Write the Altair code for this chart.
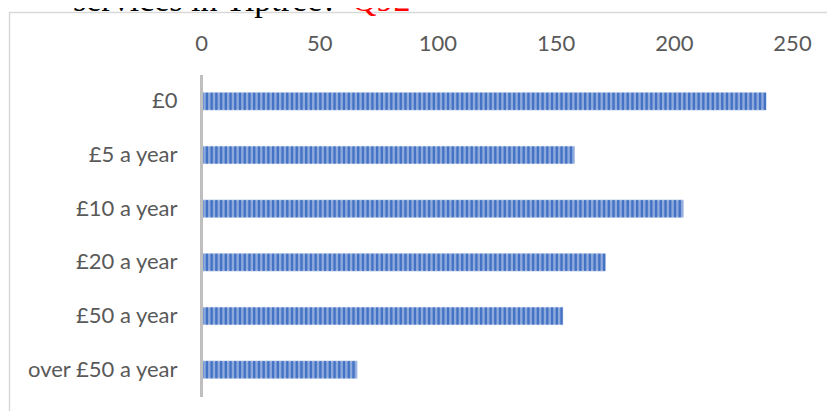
import altair as alt
import pandas as pd

# ---- data ----
categories = ["£0", "£5 a year", "£10 a year", "£20 a year", "£50 a year", "over £50 a year"]
values = [239, 158, 204, 171, 153, 66]
tick_values = [0, 50, 100, 150, 200, 250]
title_black = "services in Tiptree?"
title_red = "Q92"

df = pd.DataFrame({"category": categories, "value": values})

# stripe pattern derived from the values (one dark stripe every 2 units)
rows = []
for c, v in zip(categories, values):
    s = 0.0
    while s < v:
        rows.append({"category": c, "s": s, "e": min(s + 1.0, v)})
        s += 2.0
stripes = pd.DataFrame(rows)

one = pd.DataFrame({"a": [0]})

yscale = alt.Scale(paddingInner=0.68, paddingOuter=0.34)
xscale = alt.Scale(domain=[0, 250], nice=False, zero=True)
FONT = "Lato"
LC = "#595959"

xaxis = alt.Axis(orient="top", values=tick_values, domain=False, ticks=False,
                 tickSize=0, grid=False, labelFont=FONT, labelFontSize=22,
                 labelColor=LC, labelPadding=24, labelBaseline="alphabetic",
                 labelFlush=False, labelAlign="center", title=None)
yaxis = alt.Axis(domain=True, domainColor="#bfbfbf", domainWidth=3, ticks=False,
                 tickSize=0, grid=False, labelFont=FONT, labelFontSize=22,
                 labelColor=LC, labelPadding=24, title=None, zindex=1)

border = alt.Chart(one).mark_rect(
    fill=None, filled=False, stroke="#d9d9d9", strokeWidth=1.5
).encode(
    x=alt.value(-191.5), x2=alt.value(700),
    y=alt.value(-62), y2=alt.value(400),
)

base = alt.Chart(df).mark_bar(
    color="#8eaadc", stroke="#b4c7e7", strokeWidth=1
).encode(
    x=alt.X("value:Q", scale=xscale, axis=xaxis),
    y=alt.Y("category:N", sort=categories, scale=yscale, axis=yaxis),
)

stripe = alt.Chart(stripes).mark_bar(color="#4472c4").encode(
    x=alt.X("s:Q", scale=xscale, axis=xaxis),
    x2="e:Q",
    y=alt.Y("category:N", sort=categories, scale=yscale, axis=yaxis),
)

t1 = alt.Chart(one).mark_text(
    font="Liberation Serif", fontSize=34, color="black", align="left", baseline="alphabetic"
).encode(x=alt.value(-128), y=alt.value(-64), text=alt.value(title_black))

t2 = alt.Chart(one).mark_text(
    font="Liberation Serif", fontSize=34, color="#ff0000", align="left", baseline="alphabetic"
).encode(x=alt.value(151), y=alt.value(-64), text=alt.value(title_red))

chart = alt.layer(border, base, stripe, t1, t2).properties(
    width=591, height=322,
    autosize=alt.AutoSizeParams(type="none"),
    padding={"left": 193, "top": 66.5, "right": 35, "bottom": 14.5},
).configure_view(stroke=None)

chart.save("out.html", embed_options={"renderer": "svg", "actions": False})
